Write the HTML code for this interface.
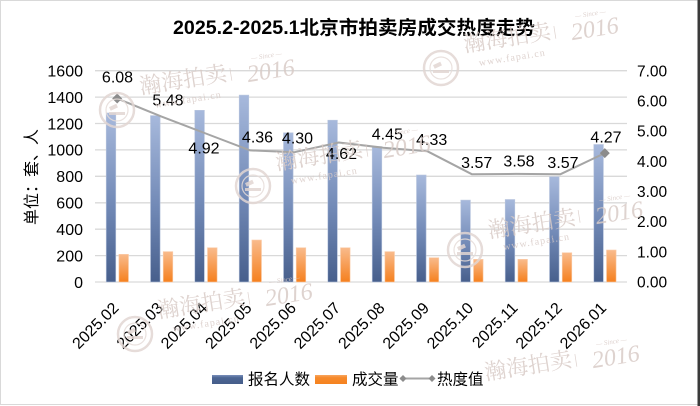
<!DOCTYPE html>
<html><head><meta charset="utf-8">
<style>
html,body{margin:0;padding:0;background:#fff;}
svg{display:block;}
text{font-family:"Liberation Sans","Noto Sans CJK SC",sans-serif;fill:#000;}
.wm text{fill:#d9cbc7;}
.wms{font-family:"Liberation Serif","Noto Serif CJK SC",serif;}
</style></head>
<body>
<svg width="700" height="406" viewBox="0 0 700 406" xmlns="http://www.w3.org/2000/svg">
<defs>
<linearGradient id="gb" x1="0" y1="0" x2="0" y2="1">
<stop offset="0" stop-color="#a7b9dc"/><stop offset="0.55" stop-color="#7189b6"/><stop offset="1" stop-color="#475f8c"/>
</linearGradient>
<linearGradient id="go" x1="0" y1="0" x2="0" y2="1">
<stop offset="0" stop-color="#f9bb8c"/><stop offset="1" stop-color="#f5801e"/>
</linearGradient>
<linearGradient id="lb" x1="0" y1="0" x2="0" y2="1">
<stop offset="0" stop-color="#7a90bb"/><stop offset="0.3" stop-color="#4d6694"/><stop offset="1" stop-color="#455d89"/>
</linearGradient>
<linearGradient id="lo" x1="0" y1="0" x2="0" y2="1">
<stop offset="0" stop-color="#f9a660"/><stop offset="0.3" stop-color="#f68a2c"/><stop offset="1" stop-color="#f5821f"/>
</linearGradient>
<g id="seal">
<circle r="17" fill="none" stroke="#e2d6d3" stroke-width="2.5"/>
<circle r="11" fill="none" stroke="#e6dcd9" stroke-width="1.2"/>
<rect x="-8" y="2" width="16" height="3" fill="#e2d6d3"/>
<rect x="-6" y="-6" width="8" height="4" fill="#e2d6d3" transform="rotate(-25)"/>
</g>
</defs>

<!-- border -->
<rect x="0.5" y="0.5" width="698" height="404" fill="#fff" stroke="#d9d9d9" stroke-width="1"/>
<rect x="697.5" y="0" width="2.5" height="406" fill="#3a3a3a"/>

<!-- title -->
<text x="173" y="34" font-size="19" font-weight="bold" textLength="362" lengthAdjust="spacingAndGlyphs">2025.2-2025.1北京市拍卖房成交热度走势</text>

<!-- gridlines -->
<g stroke="#d9d9d9" stroke-width="1.3">
<line x1="95" x2="627" y1="70.7" y2="70.7"/>
<line x1="95" x2="627" y1="97.1" y2="97.1"/>
<line x1="95" x2="627" y1="123.5" y2="123.5"/>
<line x1="95" x2="627" y1="149.9" y2="149.9"/>
<line x1="95" x2="627" y1="176.3" y2="176.3"/>
<line x1="95" x2="627" y1="202.8" y2="202.8"/>
<line x1="95" x2="627" y1="229.2" y2="229.2"/>
<line x1="95" x2="627" y1="255.6" y2="255.6"/>
<line x1="95" x2="627" y1="282" y2="282"/>
</g>

<!-- left ticks -->
<g font-size="16" text-anchor="end">
<text x="83" y="76.5">1600</text>
<text x="83" y="102.9">1400</text>
<text x="83" y="129.3">1200</text>
<text x="83" y="155.7">1000</text>
<text x="83" y="182.1">800</text>
<text x="83" y="208.6">600</text>
<text x="83" y="235">400</text>
<text x="83" y="261.4">200</text>
<text x="83" y="287.8">0</text>
</g>
<!-- right ticks -->
<g font-size="15.5">
<text x="637" y="76.3">7.00</text>
<text x="637" y="106.5">6.00</text>
<text x="637" y="136.7">5.00</text>
<text x="637" y="166.9">4.00</text>
<text x="637" y="197.1">3.00</text>
<text x="637" y="227.2">2.00</text>
<text x="637" y="257.4">1.00</text>
<text x="637" y="287.6">0.00</text>
</g>

<!-- y title -->
<text transform="translate(37,177) rotate(-90)" font-size="16" text-anchor="middle">单位：套、人</text>

<!-- blue bars -->
<g fill="url(#gb)" stroke="#b9c6de" stroke-width="0.6">
<rect x="106.2" y="113.0" width="9.6" height="169"/>
<rect x="150.5" y="115.6" width="9.6" height="166.4"/>
<rect x="194.8" y="110.3" width="9.6" height="171.7"/>
<rect x="239.2" y="95.1" width="9.6" height="186.9"/>
<rect x="283.5" y="132.8" width="9.6" height="149.2"/>
<rect x="327.8" y="120.2" width="9.6" height="161.8"/>
<rect x="372.2" y="146.6" width="9.6" height="135.4"/>
<rect x="416.5" y="175.0" width="9.6" height="107"/>
<rect x="460.8" y="200.1" width="9.6" height="81.9"/>
<rect x="505.2" y="199.5" width="9.6" height="82.5"/>
<rect x="549.5" y="176.7" width="9.6" height="105.3"/>
<rect x="593.8" y="144.5" width="9.6" height="137.5"/>
</g>
<!-- orange bars -->
<g fill="url(#go)" stroke="#fbcfae" stroke-width="0.6">
<rect x="118.9" y="254.3" width="9.6" height="27.7"/>
<rect x="163.2" y="251.6" width="9.6" height="30.4"/>
<rect x="207.5" y="247.7" width="9.6" height="34.3"/>
<rect x="251.9" y="240.0" width="9.6" height="42"/>
<rect x="296.2" y="247.7" width="9.6" height="34.3"/>
<rect x="340.5" y="247.7" width="9.6" height="34.3"/>
<rect x="384.9" y="251.6" width="9.6" height="30.4"/>
<rect x="429.2" y="257.7" width="9.6" height="24.3"/>
<rect x="473.5" y="259.3" width="9.6" height="22.7"/>
<rect x="517.9" y="259.3" width="9.6" height="22.7"/>
<rect x="562.2" y="252.7" width="9.6" height="29.3"/>
<rect x="606.5" y="250.0" width="9.6" height="32"/>
</g>

<!-- heat line -->
<polyline fill="none" stroke="#a5a5a5" stroke-width="2" stroke-linejoin="round"
points="117.2,98.5 161.5,116.6 205.8,133.5 250.2,150.4 294.5,152.2 338.8,142.5 383.2,147.7 427.5,151.3 471.8,174.2 516.2,173.9 560.5,174.2 604.8,153.1"/>
<path d="M117.2,93.5 L122.2,98.5 L117.2,103.5 L112.2,98.5 Z" fill="#8c8c8c"/>
<path d="M604.8,148.1 L609.8,153.1 L604.8,158.1 L599.8,153.1 Z" fill="#8c8c8c"/>

<!-- data labels -->
<g font-size="16" text-anchor="middle">
<text x="117.5" y="82.7">6.08</text>
<text x="168" y="105.7">5.48</text>
<text x="204" y="153.7">4.92</text>
<text x="257.5" y="142.4">4.36</text>
<text x="297.5" y="143.7">4.30</text>
<text x="341.5" y="159">4.62</text>
<text x="387.3" y="139.5">4.45</text>
<text x="431.7" y="145">4.33</text>
<text x="476.7" y="168">3.57</text>
<text x="519" y="166.7">3.58</text>
<text x="563" y="168">3.57</text>
<text x="606" y="142.4">4.27</text>
</g>

<!-- x labels -->
<g font-size="16" text-anchor="end">
<text transform="translate(119.7,309) rotate(-45)">2025.02</text>
<text transform="translate(164,309) rotate(-45)">2025.03</text>
<text transform="translate(208.3,309) rotate(-45)">2025.04</text>
<text transform="translate(252.7,309) rotate(-45)">2025.05</text>
<text transform="translate(297,309) rotate(-45)">2025.06</text>
<text transform="translate(341.3,309) rotate(-45)">2025.07</text>
<text transform="translate(385.7,309) rotate(-45)">2025.08</text>
<text transform="translate(430,309) rotate(-45)">2025.09</text>
<text transform="translate(474.3,309) rotate(-45)">2025.10</text>
<text transform="translate(518.7,309) rotate(-45)">2025.11</text>
<text transform="translate(563,309) rotate(-45)">2025.12</text>
<text transform="translate(607.3,309) rotate(-45)">2026.01</text>
</g>

<!-- legend -->
<rect x="212" y="375" width="31" height="9" fill="url(#lb)"/>
<text x="248" y="384.5" font-size="15.5">报名人数</text>
<rect x="315" y="375" width="32" height="9" fill="url(#lo)"/>
<text x="352" y="384.5" font-size="15.5">成交量</text>
<line x1="400" x2="434" y1="378.5" y2="378.5" stroke="#a5a5a5" stroke-width="2"/>
<path d="M403,375 L406.5,378.5 L403,382 L399.5,378.5 Z" fill="#8c8c8c"/>
<path d="M432,375 L435.5,378.5 L432,382 L428.5,378.5 Z" fill="#8c8c8c"/>
<text x="437" y="384.5" font-size="15.5">热度值</text>

<!-- watermarks -->
<g class="wm" opacity="0.85">
 <g transform="translate(117,110)">
  <use href="#seal"/>
  <g transform="rotate(-9)">
   <text class="wms" x="70" y="-12" font-size="22" text-anchor="middle">瀚海拍卖</text>
   <text class="wms" x="118" y="-14" font-size="14" text-anchor="middle">|</text>
   <text class="wms" x="158" y="-7" font-size="24" font-style="italic" text-anchor="middle">2016</text>
   <text class="wms" x="156" y="-28" font-size="7" font-style="italic" text-anchor="middle">— Since —</text>
   <text class="wms" x="72" y="4" font-size="10" text-anchor="middle" letter-spacing="1">www.fapai.cn</text>
  </g>
 </g>
 <g transform="translate(441,68)">
  <use href="#seal"/>
  <g transform="rotate(-9)">
   <text class="wms" x="70" y="-12" font-size="22" text-anchor="middle">瀚海拍卖</text>
   <text class="wms" x="118" y="-14" font-size="14" text-anchor="middle">|</text>
   <text class="wms" x="158" y="-7" font-size="24" font-style="italic" text-anchor="middle">2016</text>
   <text class="wms" x="156" y="-28" font-size="7" font-style="italic" text-anchor="middle">— Since —</text>
   <text class="wms" x="72" y="4" font-size="10" text-anchor="middle" letter-spacing="1">www.fapai.cn</text>
  </g>
 </g>
 <g transform="translate(253,186)">
  <use href="#seal"/>
  <g transform="rotate(-9)">
   <text class="wms" x="70" y="-12" font-size="22" text-anchor="middle">瀚海拍卖</text>
   <text class="wms" x="118" y="-14" font-size="14" text-anchor="middle">|</text>
   <text class="wms" x="158" y="-7" font-size="24" font-style="italic" text-anchor="middle">2016</text>
   <text class="wms" x="156" y="-28" font-size="7" font-style="italic" text-anchor="middle">— Since —</text>
   <text class="wms" x="72" y="4" font-size="10" text-anchor="middle" letter-spacing="1">www.fapai.cn</text>
  </g>
 </g>
 <g transform="translate(135,334)">
  <use href="#seal"/>
  <g transform="rotate(-9)">
   <text class="wms" x="70" y="-12" font-size="22" text-anchor="middle">瀚海拍卖</text>
   <text class="wms" x="118" y="-14" font-size="14" text-anchor="middle">|</text>
   <text class="wms" x="158" y="-7" font-size="24" font-style="italic" text-anchor="middle">2016</text>
   <text class="wms" x="156" y="-28" font-size="7" font-style="italic" text-anchor="middle">— Since —</text>
   <text class="wms" x="72" y="4" font-size="10" text-anchor="middle" letter-spacing="1">www.fapai.cn</text>
  </g>
 </g>
 <g transform="translate(465,250)">
  <use href="#seal"/>
  <g transform="rotate(-9)">
   <text class="wms" x="70" y="-8" font-size="22" text-anchor="middle">瀚海拍卖</text>
   <text class="wms" x="118" y="-12" font-size="14" text-anchor="middle">|</text>
   <text class="wms" x="158" y="-5" font-size="24" font-style="italic" text-anchor="middle">2016</text>
   <text class="wms" x="156" y="-26" font-size="7" font-style="italic" text-anchor="middle">— Since —</text>
   <text class="wms" x="72" y="6" font-size="10" text-anchor="middle" letter-spacing="1">www.fapai.cn</text>
  </g>
 </g>
 <g transform="translate(462,396)">
  <g transform="rotate(-9)">
   <text class="wms" x="70" y="-12" font-size="22" text-anchor="middle">瀚海拍卖</text>
   <text class="wms" x="118" y="-14" font-size="14" text-anchor="middle">|</text>
   <text class="wms" x="158" y="-7" font-size="24" font-style="italic" text-anchor="middle">2016</text>
   <text class="wms" x="156" y="-28" font-size="7" font-style="italic" text-anchor="middle">— Since —</text>
  </g>
 </g>
</g>
</svg>
</body></html>
